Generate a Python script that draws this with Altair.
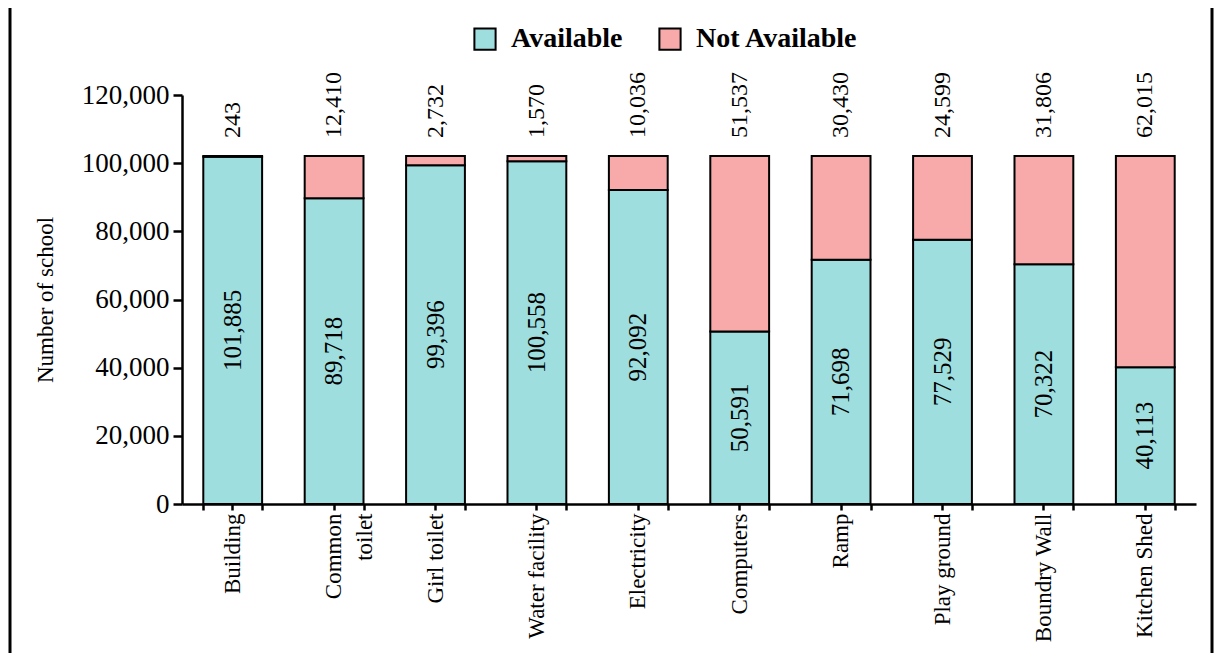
import altair as alt
import pandas as pd

# ---- data ----
categories = ["Building", "Common toilet", "Girl toilet", "Water facility", "Electricity",
              "Computers", "Ramp", "Play ground", "Boundry Wall", "Kitchen Shed"]
available = [101885, 89718, 99396, 100558, 92092, 50591, 71698, 77529, 70322, 40113]
not_available = [243, 12410, 2732, 1570, 10036, 51537, 30430, 24599, 31806, 62015]
series = ["Available", "Not Available"]
series_colors = ["#9edede", "#f8a9a9"]
y_ticks = [0, 20000, 40000, 60000, 80000, 100000, 120000]

FONT = "Liberation Serif"
W, H = 1014, 409

wide = pd.DataFrame({"facility": categories,
                     "available": available,
                     "not_available": not_available})

rows = []
for c, a, n in zip(categories, available, not_available):
    rows.append({"facility": c, "status": series[0], "count": a, "order": 0})
    rows.append({"facility": c, "status": series[1], "count": n, "order": 1})
long = pd.DataFrame(rows)

x_scale = alt.Scale(paddingInner=0.42, paddingOuter=0.21)
y_scale = alt.Scale(domain=[0, 120000], nice=False)
y_axis = alt.Axis(values=y_ticks, labelExpr="format(datum.value, ',')",
                  title="Number of school", grid=False,
                  labelFont=FONT, labelFontSize=27, labelColor="black", labelPadding=4,
                  tickSize=9, tickColor="black", tickWidth=2.5,
                  domainColor="black", domainWidth=2.5,
                  titleFont=FONT, titleFontSize=23, titleFontWeight="normal",
                  titleColor="black", titlePadding=24)

x_axis_main = alt.Axis(title=None, orient="bottom", labelAngle=-90, labelFont=FONT,
                       labelFontSize=23, labelColor="black", labelPadding=3,
                       labelAlign="right", labelBaseline="middle", labelLineHeight=31,
                       labelExpr="datum.label == 'Common toilet' ? ['Common', 'toilet'] : datum.label",
                       tickSize=6, tickColor="black", tickWidth=2.5,
                       domainColor="black", domainWidth=2.5, grid=False)
x_axis_bounds = alt.Axis(title=None, orient="bottom", labels=False, domain=False,
                         tickBand="extent", tickSize=6, tickColor="black",
                         tickWidth=2.5, grid=False)

bars = alt.Chart(long).mark_bar(stroke="black", strokeWidth=2).encode(
    x=alt.X("facility:N", sort=categories, scale=x_scale, axis=x_axis_main),
    y=alt.Y("count:Q", stack="zero", scale=y_scale, axis=y_axis),
    color=alt.Color("status:N", scale=alt.Scale(domain=series, range=series_colors),
                    legend=alt.Legend(orient="none", legendX=289, legendY=-70,
                                      direction="horizontal", title=None,
                                      symbolType="square", symbolSize=450,
                                      symbolStrokeColor="black", symbolStrokeWidth=2,
                                      labelFont=FONT, labelFontSize=28, labelLimit=400,
                                      labelFontWeight="bold", labelColor="black",
                                      columnPadding=32, labelOffset=12)),
    order=alt.Order("order:Q"),
)

inner_labels = alt.Chart(wide).transform_calculate(
    mid="datum.available / 2"
).mark_text(angle=270, align="center", baseline="middle", font=FONT,
            fontSize=25, color="black").encode(
    x=alt.X("facility:N", sort=categories, scale=x_scale, axis=None),
    y=alt.Y("mid:Q", scale=y_scale, axis=y_axis),
    text=alt.Text("available:Q", format=","),
)

top_labels = alt.Chart(wide).transform_calculate(
    total="datum.available + datum.not_available"
).mark_text(angle=270, align="left", baseline="middle", dx=18, font=FONT,
            fontSize=24, color="black").encode(
    x=alt.X("facility:N", sort=categories, scale=x_scale, axis=x_axis_bounds),
    y=alt.Y("total:Q", scale=y_scale, axis=y_axis),
    text=alt.Text("not_available:Q", format=","),
)

frame_data = alt.Data(values=[{"side": "frame"}])
frame_left = alt.Chart(frame_data).mark_rule(color="black", strokeWidth=3).encode(
    x=alt.value(-172), y=alt.value(-87), y2=alt.value(H + 149))
frame_right = alt.Chart(frame_data).mark_rule(color="black", strokeWidth=3).encode(
    x=alt.value(W + 16), y=alt.value(-87), y2=alt.value(H + 149))

chart = alt.layer(bars, inner_labels, top_labels, frame_left, frame_right).resolve_axis(
    x="independent"
).properties(
    width=W, height=H,
    view=alt.ViewBackground(stroke="transparent", strokeWidth=0),
    autosize=alt.AutoSizeParams(type="none"),
    padding={"left": 174, "top": 87, "right": 18, "bottom": 149},
).configure_view(stroke="transparent", strokeWidth=0).configure(background="white", font=FONT)

chart.save("out.html", embed_options={"renderer": "svg", "actions": False})
